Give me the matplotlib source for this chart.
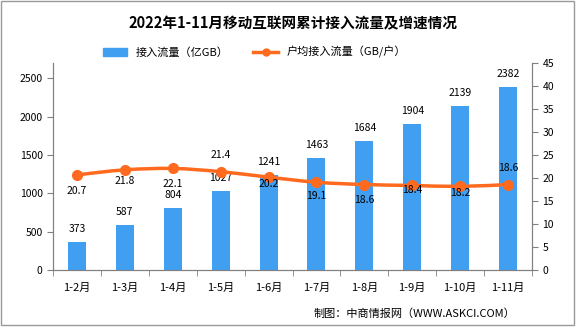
import matplotlib
matplotlib.use('Agg')
import matplotlib.pyplot as plt
import numpy as np
from matplotlib.path import Path
from matplotlib.patches import PathPatch, Rectangle
from matplotlib.lines import Line2D
from matplotlib.patches import Patch

plt.rcParams['font.family'] = ['Noto Sans CJK SC', 'DejaVu Sans']

months = ['1-2月', '1-3月', '1-4月', '1-5月', '1-6月',
          '1-7月', '1-8月', '1-9月', '1-10月', '1-11月']
traffic = [373, 587, 804, 1027, 1241, 1463, 1684, 1904, 2139, 2382]
per_user = [20.7, 21.8, 22.1, 21.4, 20.2, 19.1, 18.6, 18.4, 18.2, 18.6]

# pixel offsets for the per-user labels (above / below the point)
label_dy = [-16, -11, -16, 17, -7, -14, -15, -5, -7, 17]

blue = '#419FF1'
orange = '#FF6A1F'

fig = plt.figure(figsize=(5.85, 3.27), dpi=100)
ax = fig.add_axes([0.0906, 0.174, 0.8188, 0.633])
ax2 = ax.twinx()

x = np.arange(len(months))
ax.bar(x, traffic, width=0.375, color=blue, zorder=2)
for xi, v in zip(x, traffic):
    ax.annotate(str(v), (xi, v), xytext=(0, 8), textcoords='offset pixels',
                ha='center', va='bottom', fontsize=7.5, color='black')

# smooth curve through the points drawn as cubic bezier segments
pts = np.column_stack([x, per_user])
verts = [tuple(pts[0])]
codes = [Path.MOVETO]
for i in range(len(pts) - 1):
    p0 = pts[i - 1] if i > 0 else pts[i]
    p1, p2 = pts[i], pts[i + 1]
    p3 = pts[i + 2] if i + 2 < len(pts) else pts[i + 1]
    c1 = p1 + (p2 - p0) / 6
    c2 = p2 - (p3 - p1) / 6
    verts += [tuple(c1), tuple(c2), tuple(p2)]
    codes += [Path.CURVE4] * 3
ax2.add_patch(PathPatch(Path(verts, codes), fill=False, edgecolor=orange,
                        lw=2.5, zorder=3))
ax2.plot(x, per_user, 'o', color=orange, ms=7, zorder=4)
for xi, v, dy in zip(x, per_user, label_dy):
    ax2.annotate(f'{v}', (xi, v), xytext=(0, dy), textcoords='offset pixels',
                 ha='center', va='center', fontsize=7.5, color='black', zorder=5)

ax.set_xlim(-0.5, len(months) - 0.5)
ax.set_ylim(0, 2700)
ax2.set_ylim(0, 45)
ax.set_yticks(range(0, 2501, 500))
ax2.set_yticks(range(0, 46, 5))

ax.set_xticks(x)
ax.set_xticklabels(months, fontsize=8)
ax.set_xticks(np.arange(-0.5, len(months), 1), minor=True)
ax.tick_params(axis='x', which='major', length=0, pad=9)
ax.tick_params(axis='x', which='minor', length=4, color='#808080')
ax.tick_params(axis='y', labelsize=7.5, length=4, color='#808080')
ax2.tick_params(axis='y', labelsize=7.5, length=4, color='#808080')

for a in (ax, ax2):
    a.spines['top'].set_visible(False)
    for s in ('left', 'right', 'bottom'):
        a.spines[s].set_color('#808080')

fig.text(0.5, 0.93, '2022年1-11月移动互联网累计接入流量及增速情况',
         ha='center', va='center', fontsize=10.5, fontweight='bold')

handles = [Patch(color=blue), Line2D([], [], color=orange, lw=2.5, marker='o', ms=5)]
fig.legend(handles, ['接入流量（亿GB）', '户均接入流量（GB/户）'],
           loc='center', bbox_to_anchor=(0.435, 0.84), ncol=2, frameon=False,
           fontsize=8, handlelength=2.2, columnspacing=2.2)

fig.text(0.88, 0.042, '制图：中商情报网（WWW.ASKCI.COM）', ha='right', va='center',
         fontsize=8)

fig.patches.append(Rectangle((0.002, 0.006), 0.979, 0.992, transform=fig.transFigure,
                             fill=False, edgecolor='#999999', lw=1))

fig.savefig('out.png', dpi=100)
